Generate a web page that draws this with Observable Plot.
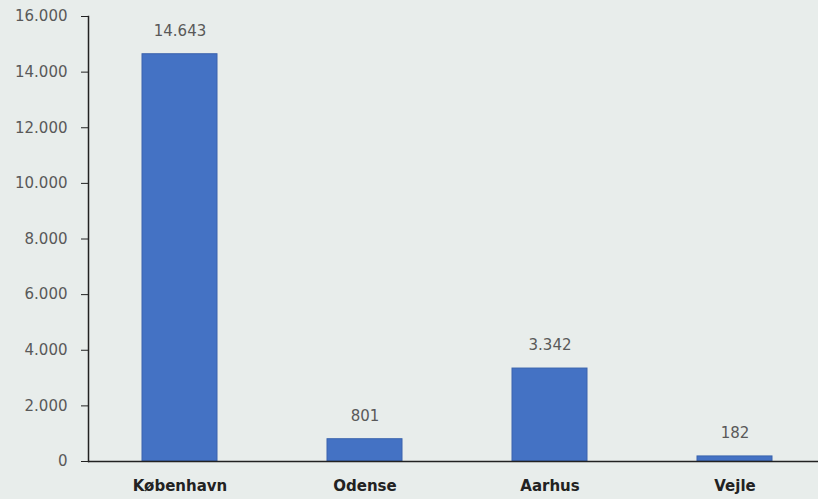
<!DOCTYPE html>
<html>
<head>
<meta charset="utf-8">
<script src="https://cdn.jsdelivr.net/npm/d3@7"></script>
<script src="https://cdn.jsdelivr.net/npm/@observablehq/plot@0.6"></script>
<style>
  html, body { margin: 0; padding: 0; background: #e8edeb; }
  #chart svg { display: block; }
</style>
</head>
<body>
<div id="chart"></div>
<script>
const cities = ["København", "Odense", "Aarhus", "Vejle"];
const counts = [14643, 801, 3342, 182];
const yTicks = [0, 2000, 4000, 6000, 8000, 10000, 12000, 14000, 16000];

const data = cities.map((c, i) => ({city: c, value: counts[i]}));
const fmt = d3.formatLocale({decimal: ",", thousands: ".", grouping: [3], currency: ["", " kr."]}).format(",d");

const chart = Plot.plot({
  width: 818,
  height: 499,
  marginTop: 16,
  marginBottom: 38,
  marginLeft: 88,
  marginRight: 0,
  style: {background: "#e8edeb", fontFamily: "DejaVu Sans, sans-serif", fontSize: "14px"},
  x: {domain: cities, range: [87, 827], paddingInner: 0.595, paddingOuter: 0.2975, align: 0.5, label: null},
  y: {domain: [0, 16000], label: null},
  marks: [
    Plot.barY(data, {x: "city", y: "value", fill: "#4472c4", stroke: "#3a63ad", strokeWidth: 1}),
    Plot.ruleY([0], {stroke: "#222", strokeWidth: 1.5}),
    Plot.frame({anchor: "left", stroke: "#222", strokeWidth: 1.5}),
    Plot.axisY(yTicks, {ticks: yTicks, tickSize: 7, tickPadding: 14, tickFormat: d => fmt(d), fill: "#595959", stroke: "#222", fontSize: 15, label: null}),
    Plot.axisX({tickSize: 0, tickPadding: 19, fontWeight: "bold", fill: "#222", fontSize: 15, label: null}),
    Plot.text(data, {x: "city", y: "value", text: d => fmt(d.value), dy: -23, fill: "#595959", fontSize: 15})
  ]
});
document.getElementById("chart").appendChild(chart);
</script>
</body>
</html>
